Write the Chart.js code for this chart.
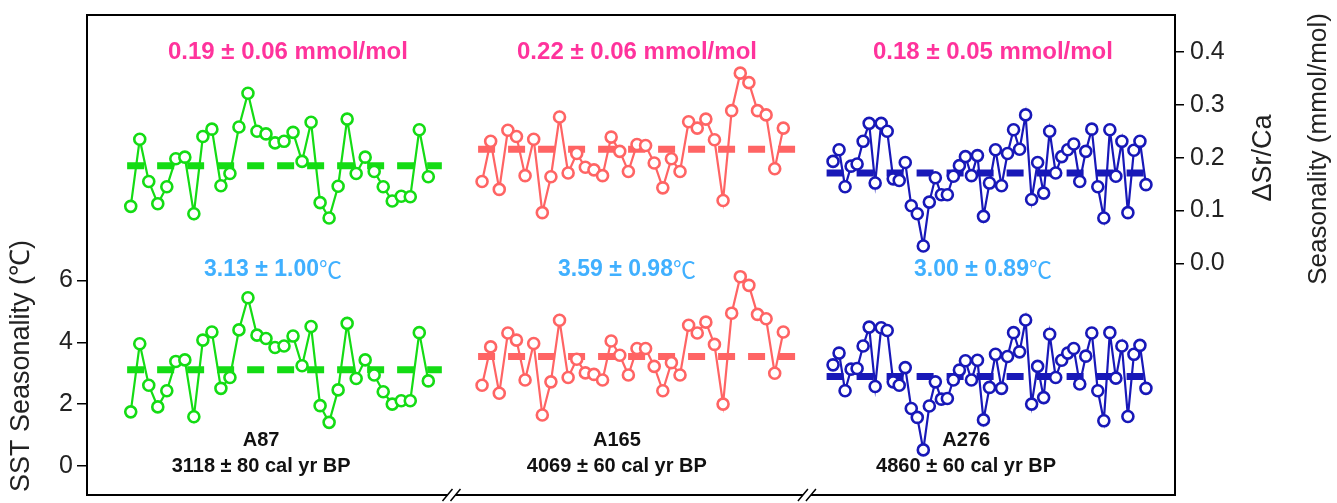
<!DOCTYPE html>
<html><head><meta charset="utf-8">
<script src="https://cdn.jsdelivr.net/npm/chart.js@4.4.0/dist/chart.umd.min.js"></script>
<style>html,body{margin:0;padding:0;background:#fff;}#wrap{width:1337px;height:503px;}</style>
</head><body><div id="wrap"><canvas id="c" width="1337" height="503"></canvas></div>
<script>
// ---------------- DATA ----------------
const samples = ['A87', 'A165', 'A276'];
const ages = ['3118 ± 80 cal yr BP', '4069 ± 60 cal yr BP', '4860 ± 60 cal yr BP'];
const srcaLabels = ['0.19 ± 0.06 mmol/mol', '0.22 ± 0.06 mmol/mol', '0.18 ± 0.05 mmol/mol'];
const sstLabels = ['3.13 ± 1.00', '3.59 ± 0.98', '3.00 ± 0.89'];
const sstUnit = '℃';

const srcaA87 = [0.108,0.235,0.155,0.113,0.145,0.198,0.201,0.094,0.240,0.254,0.147,0.170,0.258,0.322,0.250,0.245,0.228,0.231,0.248,0.193,0.267,0.115,0.086,0.146,0.273,0.170,0.201,0.174,0.145,0.118,0.127,0.126,0.253,0.164];
const sstA87  = [1.75,3.95,2.61,1.91,2.43,3.38,3.43,1.59,4.07,4.33,2.51,2.86,4.40,5.44,4.23,4.12,3.83,3.88,4.20,3.24,4.51,1.95,1.41,2.46,4.61,2.83,3.43,2.94,2.40,2.00,2.11,2.11,4.31,2.75];

const srcaA165 = [0.155,0.231,0.140,0.252,0.240,0.166,0.235,0.096,0.164,0.277,0.171,0.208,0.182,0.177,0.166,0.239,0.212,0.174,0.225,0.223,0.190,0.143,0.198,0.174,0.268,0.256,0.273,0.234,0.119,0.289,0.360,0.342,0.289,0.281,0.179,0.256];
const sstA165  = [2.61,3.85,2.35,4.30,4.07,2.78,3.96,1.65,2.72,4.71,2.86,3.45,3.01,2.96,2.78,4.04,3.58,2.94,3.80,3.80,3.22,2.43,3.34,2.94,4.55,4.30,4.65,3.93,2.00,4.94,6.12,5.84,4.90,4.76,3.00,4.33];

const srcaA276 = [0.193,0.215,0.145,0.184,0.188,0.231,0.265,0.152,0.265,0.250,0.160,0.157,0.191,0.109,0.094,0.033,0.116,0.162,0.130,0.130,0.165,0.185,0.202,0.166,0.204,0.089,0.152,0.215,0.147,0.208,0.253,0.216,0.281,0.121,0.191,0.133,0.250,0.171,0.202,0.215,0.226,0.155,0.212,0.254,0.145,0.086,0.253,0.165,0.231,0.096,0.214,0.231,0.149];
const sstA276  = [3.27,3.65,2.43,3.13,3.15,3.88,4.49,2.57,4.47,4.38,2.72,2.61,3.18,1.86,1.57,0.52,1.94,2.72,2.16,2.18,2.78,3.10,3.40,2.78,3.42,1.49,2.54,3.61,2.51,3.54,4.31,3.69,4.72,2.00,3.22,2.21,4.26,2.86,3.42,3.65,3.80,2.65,3.55,4.30,2.43,1.46,4.31,2.84,3.88,1.60,3.61,3.90,2.51];

const srcaMeans = [0.185, 0.216, 0.171];
const sstMeans  = [3.11, 3.54, 2.89];

const sstTicks  = [0, 2, 4, 6];
const srcaTicks = [0, 0.1, 0.2, 0.3, 0.4];

// ---------------- STYLE / LAYOUT ----------------
const colors = ['#14dc14', '#ff6464', '#1818b8'];
const srcaSeries = [srcaA87, srcaA165, srcaA276];
const sstSeries = [sstA87, sstA165, sstA276];
const panelFrac = [[0.0402, 0.3137], [0.3631, 0.6400], [0.6857, 0.9733]];
const meanSpan = [[-0.4, 1.5], [-0.46, 1.7], [-1.07, 0.5]];
const breakFrac = [0.335, 0.6617];
const lblX = { top: [0.1847, 0.5055, 0.8327], mid: [0.1710, 0.4963, 0.8235], bot: [0.16, 0.487, 0.808] };
const FONT = 'Liberation Sans, Arial, Helvetica, sans-serif';

const datasets = [];
const scales = {};
for (let p = 0; p < 3; p++) {
  const n = srcaSeries[p].length;
  const [f0, f1] = panelFrac[p];
  const per = (n - 1) / (f1 - f0);
  scales['x' + p] = { type: 'linear', display: false, min: -f0 * per, max: (n - 1) + (1 - f1) * per };
  const line = (vals, yId) => ({
    data: vals.map((v, i) => ({ x: i, y: v })), xAxisID: 'x' + p, yAxisID: yId,
    borderColor: colors[p], borderWidth: 2.2, pointRadius: 5.5, pointBorderWidth: 2.6,
    pointBackgroundColor: '#fff', pointBorderColor: colors[p], tension: 0, order: 1
  });
  const mean = (m, yId) => ({
    data: [{ x: meanSpan[p][0], y: m }, { x: n - 1 + meanSpan[p][1], y: m }], xAxisID: 'x' + p, yAxisID: yId,
    borderColor: colors[p], borderWidth: 7, borderDash: [17, 13], pointRadius: 0, order: 2
  });
  datasets.push(line(srcaSeries[p], 'y2'), line(sstSeries[p], 'y'), mean(srcaMeans[p], 'y2'), mean(sstMeans[p], 'y'));
}

const tickFont = { family: FONT, size: 25 };
scales.y = {
  position: 'left', min: -0.935, max: 14.58,
  afterBuildTicks: s => { s.ticks = sstTicks.map(v => ({ value: v })); },
  afterFit: s => { s.width = 87; s.paddingTop = 0; s.paddingBottom = 0; },
  ticks: { font: tickFont, color: '#222', padding: 4, callback: v => String(v) },
  grid: { drawOnChartArea: false, tickLength: 10, color: '#000', lineWidth: 1.5 },
  border: { display: true, color: '#000', width: 2 }
};
scales.y2 = {
  position: 'right', min: -0.438, max: 0.47,
  afterBuildTicks: s => { s.ticks = srcaTicks.map(v => ({ value: v })); },
  afterFit: s => { s.width = 162; s.paddingTop = 0; s.paddingBottom = 0; },
  ticks: { font: tickFont, color: '#222', padding: 6, callback: v => Number(v).toFixed(1) },
  grid: { drawOnChartArea: false, tickLength: 9, color: '#000', lineWidth: 1.5 },
  border: { display: true, color: '#000', width: 2 }
};

function drawRot(ctx, s, x, y, font) {
  ctx.save(); ctx.translate(x, y); ctx.rotate(-Math.PI / 2);
  ctx.font = font; ctx.textAlign = 'center'; ctx.textBaseline = 'middle';
  ctx.fillStyle = '#222'; ctx.fillText(s, 0, 0); ctx.restore();
}

const decor = {
  id: 'decor',
  afterDraw(chart) {
    const { ctx, chartArea: a } = chart;
    const W = a.right - a.left;
    const yS = chart.scales.y, y2S = chart.scales.y2;
    ctx.save();
    ctx.strokeStyle = '#000'; ctx.lineWidth = 2;
    ctx.beginPath();
    ctx.moveTo(a.left - 1, a.top); ctx.lineTo(a.right + 1, a.top);
    ctx.moveTo(a.left - 1, a.bottom); ctx.lineTo(a.right + 1, a.bottom);
    ctx.stroke();
    breakFrac.forEach(f => {
      const x = a.left + f * W;
      ctx.fillStyle = '#fff'; ctx.fillRect(x - 4, a.bottom - 3, 8, 6);
      ctx.beginPath();
      [-4, 4].forEach(d => { ctx.moveTo(x + d - 5, a.bottom + 6); ctx.lineTo(x + d + 5, a.bottom - 6); });
      ctx.lineWidth = 1.5; ctx.stroke();
    });
    ctx.textAlign = 'center'; ctx.textBaseline = 'middle';
    for (let p = 0; p < 3; p++) {
      ctx.font = 'bold 24px ' + FONT; ctx.fillStyle = '#ff339c';
      ctx.fillText(srcaLabels[p], a.left + lblX.top[p] * W, y2S.getPixelForValue(0.40));
      const cx = a.left + lblX.mid[p] * W, cy = yS.getPixelForValue(6.35);
      ctx.font = 'bold 23px ' + FONT; const w1 = ctx.measureText(sstLabels[p]).width;
      ctx.font = '23px "Noto Sans CJK SC", ' + FONT; const w2 = ctx.measureText(sstUnit).width;
      const x0 = cx - (w1 + w2) / 2;
      ctx.textAlign = 'left'; ctx.fillStyle = '#40b0ff';
      ctx.font = 'bold 23px ' + FONT; ctx.fillText(sstLabels[p], x0, cy);
      ctx.font = '23px "Noto Sans CJK SC", ' + FONT; ctx.fillText(sstUnit, x0 + w1, cy);
      ctx.textAlign = 'center'; ctx.fillStyle = '#111';
      ctx.font = 'bold 20px ' + FONT;
      ctx.fillText(samples[p], a.left + lblX.bot[p] * W, yS.getPixelForValue(0.84));
      ctx.fillText(ages[p], a.left + lblX.bot[p] * W, yS.getPixelForValue(-0.03));
    }
    drawRot(ctx, 'SST Seasonality (℃)', 22, 366, '27px ' + FONT);
    drawRot(ctx, 'ΔSr/Ca', 1264, 158, '27px ' + FONT);
    drawRot(ctx, 'Seasonality (mmol/mol)', 1319, 149, '26px ' + FONT);
    ctx.restore();
  }
};

new Chart(document.getElementById('c'), {
  type: 'line',
  data: { datasets },
  options: {
    responsive: false, animation: false, devicePixelRatio: 1,
    layout: { padding: { top: 15, bottom: 6, left: 0, right: 0 } },
    plugins: { legend: { display: false }, tooltip: { enabled: false } },
    scales
  },
  plugins: [decor]
});
</script></body></html>
